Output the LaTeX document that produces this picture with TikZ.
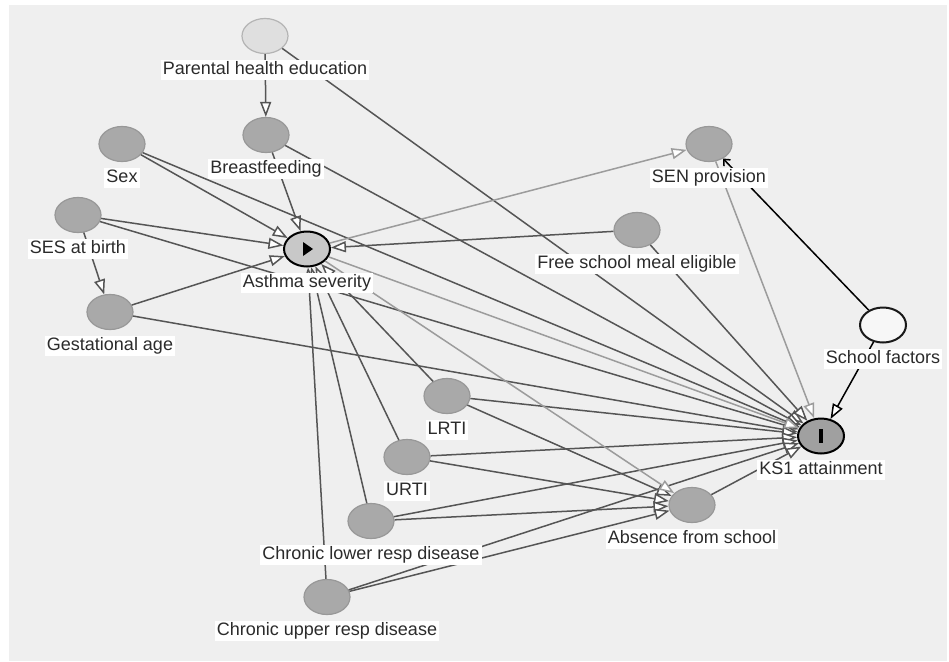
\documentclass[tikz,border=0pt]{standalone}
\usepackage{fontspec}
\setmainfont{Liberation Sans}
\usepackage{xcolor}
\usetikzlibrary{arrows.meta,shapes.geometric}

\definecolor{panel}{HTML}{EFEFEF}
\definecolor{varfill}{HTML}{A9A9A9}
\definecolor{varline}{HTML}{989898}
\definecolor{phefill}{HTML}{DFDFDF}
\definecolor{pheline}{HTML}{B4B4B4}
\definecolor{asthfill}{HTML}{C8C8C8}
\definecolor{outfill}{HTML}{A0A0A0}
\definecolor{edgecol}{HTML}{555555}
\definecolor{edgelite}{HTML}{9C9C9C}
\definecolor{labtext}{HTML}{2B2B2B}

\begin{document}
\begin{tikzpicture}[x=1pt,y=-1pt,>=Stealth,
    var/.style={ellipse,draw=varline,fill=varfill,line width=1.2pt,
        minimum width=46pt,minimum height=35pt,inner sep=0pt},
    lab/.style={fill=white,text=labtext,inner xsep=2pt,inner ysep=1.5pt,
        text height=13.5pt,text depth=4pt,font=\fontsize{18}{21}\selectfont},
    causal/.style={draw=edgecol,line width=1.5pt,
        -{Triangle[length=15pt,width=11pt,fill=white]}},
    causallight/.style={causal,draw=edgelite},
    causaldark/.style={causal,draw=black}]
    \useasboundingbox (0,0) rectangle (949,661);
    \fill[panel] (9,5) rectangle (947,661);
    % variables
    \foreach \n/\x/\y in {bf/266/135,sex/122/144,ses/78/215,ga/110/312,
        sen/709/144,fsm/637/230,abs/692/505,lrti/447/396,urti/407/457,
        clrd/371/521,curd/327/597}{
        \node[var] (\n) at (\x,\y) {};
    }
    \node[var,fill=phefill,draw=pheline] (phe) at (265,36) {};
    \node[var,fill=asthfill,draw=black,line width=2pt] (asth) at (307,249) {};
    \node[var,fill=outfill,draw=black,line width=2pt] (ks1) at (821,436) {};
    \node[var,fill=white!97!black,draw=black!90,line width=2pt] (sch) at (883,325) {};
    \fill (asth.center) ++(-4,-7) -- ++(10,7) -- ++(-10,7) -- cycle;
    \fill (ks1.center) ++(-2,-7) rectangle ++(4,14);
    % arrows
    \draw[causal] (phe) -- (bf);
    \draw[causal] (ses) -- (ga);
    \foreach \s in {bf,sex,ses,ga,fsm,lrti,urti,clrd,curd}{
        \draw[causal] (\s) -- (asth);
    }
    \foreach \s in {phe,bf,sex,ses,ga,fsm,lrti,urti,clrd,curd,abs}{
        \draw[causal] (\s) -- (ks1);
    }
    \foreach \s in {lrti,urti,clrd,curd}{
        \draw[causal] (\s) -- (abs);
    }
    \foreach \t in {sen,ks1,abs}{
        \draw[causallight] (asth) -- (\t);
    }
    \draw[causallight] (sen) -- (ks1);
    \draw[causaldark] (sch) -- (ks1);
    \draw[black,line width=1.5pt,-{Straight Barb[length=5pt,width=9pt]}] (sch) -- (sen);
    % labels
    \foreach \n/\t in {phe/Parental health education,bf/Breastfeeding,sex/Sex,
        ses/SES at birth,ga/Gestational age,asth/Asthma severity,
        sen/SEN provision,fsm/Free school meal eligible,sch/School factors,
        ks1/KS1 attainment,abs/Absence from school,lrti/LRTI,urti/URTI,
        clrd/Chronic lower resp disease,curd/Chronic upper resp disease}{
        \node[lab] (\n-lab) at ([yshift=-34pt]\n.center) {\t};
    }
\end{tikzpicture}
\end{document}
